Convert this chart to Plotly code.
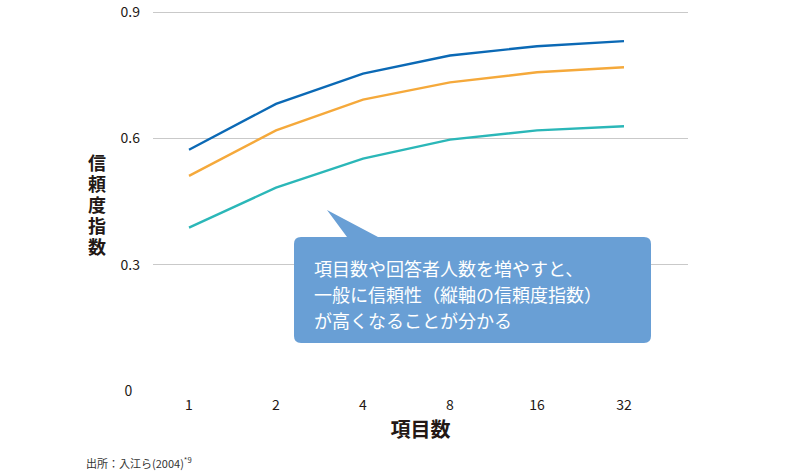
import plotly.graph_objects as go

# ---- data ----
items = [1, 2, 4, 8, 16, 32]
series_names = ["6名", "4名", "2名"]
vals_6 = [0.573, 0.682, 0.754, 0.797, 0.819, 0.831]
vals_4 = [0.511, 0.619, 0.692, 0.733, 0.757, 0.769]
vals_2 = [0.388, 0.483, 0.552, 0.597, 0.619, 0.629]
y_ticks = [0, 0.3, 0.6, 0.9]
y_ticktext = ["0\u2007", "0.3", "0.6", "0.9"]
x_title = "項目数"
y_title = "信頼度指数"
callout_lines = ["項目数や回答者人数を増やすと、",
                 "一般に信頼性（縦軸の信頼度指数）",
                 "が高くなることが分かる"]
source_text = "出所：入江ら(2004)<sup>*9</sup>"

colors = ["#0b69b5", "#f5a93b", "#2bb7b8"]
FONT = "Noto Sans CJK JP"
DARK = "#231815"

W, H = 790, 474
Y_TOP = 0.905  # axis range top (slightly above last gridline)
# plot area in page pixels (0 at y=391, 0.9 at y=12)
P_L, P_R, P_B = 153, 688, 391
PH = (391 - 12) / 0.9 * Y_TOP
P_T = P_B - PH
PW = P_R - P_L
L, T = P_L, P_T
R, B = W - L - PW, H - T - PH


def px(x):
    return (x - P_L) / PW


def py(y):
    return (P_B - y) / PH


fig = go.Figure()
for name, vals, c in zip(series_names, [vals_6, vals_4, vals_2], colors):
    fig.add_trace(go.Scatter(x=items, y=vals, mode="lines", name=name,
                             line=dict(color=c, width=2.4), showlegend=False))
    fig.add_annotation(x=items[-1], y=vals[-1], xref="x", yref="y",
                       text=name, showarrow=False, xanchor="left", yanchor="middle",
                       xshift=19, yshift=-1,
                       font=dict(family=FONT, size=16, color=c))

# callout bubble (rounded rect + pointer)
x0, x1, y0, y1, r = 294, 651, 237, 343, 7
path = (f"M {px(x0+r)},{py(y0)} L {px(347)},{py(y0)} L {px(327)},{py(210)} "
        f"L {px(378)},{py(y0)} L {px(x1-r)},{py(y0)} "
        f"Q {px(x1)},{py(y0)} {px(x1)},{py(y0+r)} L {px(x1)},{py(y1-r)} "
        f"Q {px(x1)},{py(y1)} {px(x1-r)},{py(y1)} L {px(x0+r)},{py(y1)} "
        f"Q {px(x0)},{py(y1)} {px(x0)},{py(y1-r)} L {px(x0)},{py(y0+r)} "
        f"Q {px(x0)},{py(y0)} {px(x0+r)},{py(y0)} Z")
fig.add_shape(type="path", path=path, xref="paper", yref="paper",
              fillcolor="#699fd5", line=dict(width=0), layer="above")
for i, line in enumerate(callout_lines):
    fig.add_annotation(x=px(312), y=py(268 + 26 * i), xref="paper", yref="paper",
                       text=line, showarrow=False, xanchor="left", yanchor="middle",
                       font=dict(family=FONT, size=18, color="white"))

# y title (vertical stacked characters)
for i, ch in enumerate(y_title):
    fig.add_annotation(x=px(97), y=py(162 + 21 * i), xref="paper", yref="paper",
                       text=f"<b>{ch}</b>", showarrow=False,
                       xanchor="center", yanchor="middle",
                       font=dict(family=FONT, size=18, color=DARK))

# source
fig.add_annotation(x=px(84), y=py(463), xref="paper", yref="paper",
                   text=source_text, showarrow=False, xanchor="left", yanchor="middle",
                   font=dict(family=FONT, size=11, color="#333333"))

fig.update_layout(
    width=W, height=H,
    margin=dict(l=L, r=R, t=T, b=B, autoexpand=False),
    paper_bgcolor="white", plot_bgcolor="white",
    font=dict(family=FONT, color=DARK),
    xaxis=dict(type="log", range=[-0.1246, 1.7266], tickvals=items,
               ticktext=[str(v) for v in items], showgrid=False, zeroline=False,
               showline=False, ticks="", tickfont=dict(size=14, color=DARK),
               ticklabelstandoff=4, automargin=False, ticklabeloverflow="allow",
               title=dict(text=f"<b>{x_title}</b>", font=dict(size=20, color=DARK),
                          standoff=9)),
    yaxis=dict(range=[0, Y_TOP], tickmode="array", tickvals=y_ticks,
               ticktext=y_ticktext, automargin=False, ticklabeloverflow="allow",
               showgrid=True, gridcolor="#c9c9c9", gridwidth=1, zeroline=False,
               showline=False, ticks="", tickfont=dict(size=14, color=DARK),
               ticklabelstandoff=12),
)
# hide gridline at 0 (reference shows no baseline)
fig.add_shape(type="line", xref="paper", yref="y", x0=0, x1=1, y0=0, y1=0,
              line=dict(color="white", width=2), layer="below")

fig.write_html("out.html",
               config={"displayModeBar": False},
               post_script="document.body.style.margin='0';")
